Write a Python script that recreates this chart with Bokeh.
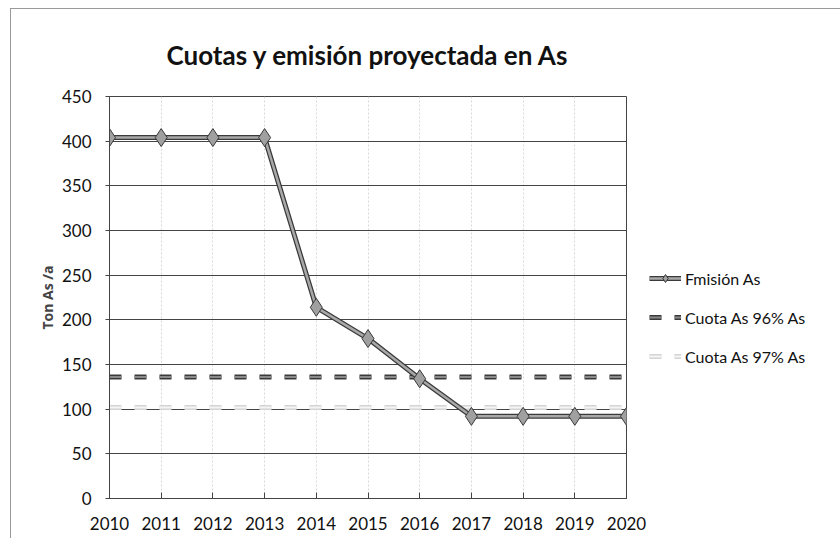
from bokeh.plotting import figure
from bokeh.models import Legend, LegendItem, FixedTicker, Range1d
from bokeh.embed import file_html
from bokeh.resources import INLINE

years = [2010, 2011, 2012, 2013, 2014, 2015, 2016, 2017, 2018, 2019, 2020]
emision = [404, 404, 404, 404, 214, 179, 134, 92, 92, 92, 92]
cuota96 = [136] * 11
cuota97 = [102] * 11
y_ticks = [0, 50, 100, 150, 200, 250, 300, 350, 400, 450]

FONT = "Lato"

p = figure(frame_width=517, frame_height=402, min_border_left=98, min_border_right=200,
           min_border_top=87, min_border_bottom=40, output_backend="svg",
           toolbar_location=None, x_range=Range1d(2010, 2020), y_range=Range1d(0, 450))
p.styles = {"border-top": "1px solid #999", "border-left": "1px solid #999",
            "margin-left": "10px", "margin-top": "8px"}

p.title.text = "Cuotas y emisión proyectada en As"
p.title.text_font = "Lato"
p.title.text_font_size = "26px"
p.title.text_font_style = "bold"
p.title.align = "center"
p.title.text_color = "#111111"
p.title.standoff = 52

p.outline_line_color = "#444444"
p.xgrid.ticker = FixedTicker(ticks=years)
p.xgrid.grid_line_color = "#d8d8d8"
p.xgrid.grid_line_dash = "2 2"
p.ygrid.ticker = FixedTicker(ticks=y_ticks)
p.ygrid.grid_line_color = "#444444"

p.xaxis.ticker = FixedTicker(ticks=years)
p.yaxis.ticker = FixedTicker(ticks=y_ticks)
for ax in (p.xaxis[0], p.yaxis[0]):
    ax.major_label_text_font = FONT
    ax.major_label_text_font_size = "17px"
    ax.major_label_text_color = "#111111"
    ax.axis_line_color = "#444444"
    ax.major_tick_line_color = "#444444"
    ax.minor_tick_line_color = None
p.xaxis.major_tick_in = 6
p.xaxis.major_tick_out = 0
p.xaxis.major_label_standoff = 18
p.yaxis.major_tick_in = 0
p.yaxis.major_tick_out = 4
p.yaxis.major_label_standoff = 14
p.yaxis.axis_label = "Ton As /a"
p.yaxis.axis_label_text_font = "Open Sans"
p.yaxis.axis_label_text_font_style = "bold"
p.yaxis.axis_label_text_font_size = "14px"
p.yaxis.axis_label_standoff = 2

# quota lines
q96a = p.line(years, cuota96, line_color="#3a3a3a", line_width=5, line_dash="12 13")
q96b = p.line(years, cuota96, line_color="#8a8a8a", line_width=2, line_dash="12 13")
q97a = p.line(years, cuota97, line_color="#d4d4d4", line_width=5, line_dash="12 13")
q97b = p.line(years, cuota97, line_color="#f4f4f4", line_width=2, line_dash="12 13")

# emission line
e1 = p.line(years, emision, line_color="#3a3a3a", line_width=5)
e2 = p.line(years, emision, line_color="#a8a8a8", line_width=2.5)
e3 = p.scatter(years, emision, marker="diamond", size=18, fill_color="#a0a0a0",
               line_color="#3a3a3a", line_width=1)

legend = Legend(items=[
    LegendItem(label="Fmisión As", renderers=[e1, e2, e3]),
    LegendItem(label="Cuota As 96% As", renderers=[q96a, q96b]),
    LegendItem(label="Cuota As 97% As", renderers=[q97a, q97b]),
], location=(23, 132))
legend.label_text_font = FONT
legend.label_text_font_size = "16px"
legend.label_text_color = "#111111"
legend.border_line_color = None
legend.background_fill_alpha = 0
legend.glyph_width = 32
legend.label_standoff = 4
legend.spacing = 19
p.add_layout(legend, "right")

open("out.html", "w").write(file_html(p, INLINE))
